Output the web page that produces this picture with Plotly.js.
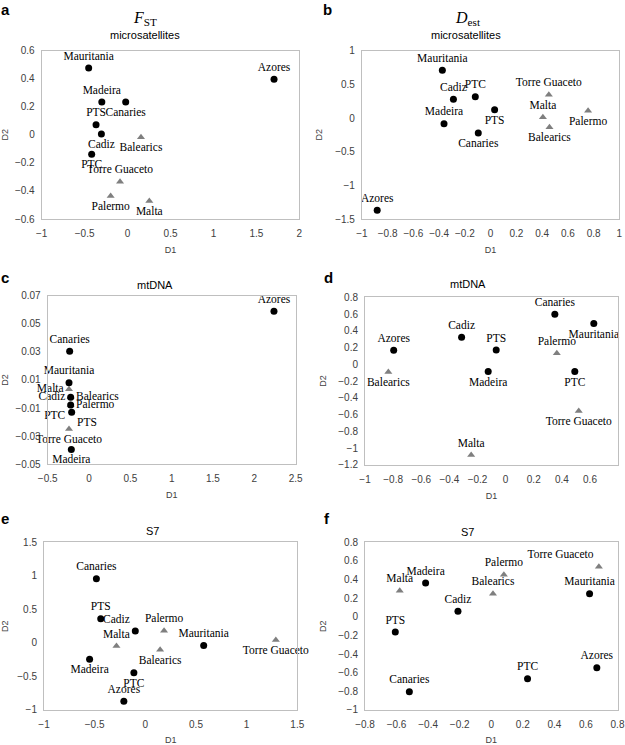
<!DOCTYPE html>
<html>
<head>
<meta charset="utf-8">
<script src="https://cdn.plot.ly/plotly-3.0.1.min.js"></script>
<style>
  body { margin: 0; }
  #graph { width: 625px; height: 745px; }
</style>
</head>
<body>
<div id="graph"></div>
<script>
// populations, same order in every panel
const pops = ['Azores', 'Madeira', 'Canaries', 'Mauritania', 'Cadiz', 'PTS', 'PTC',
              'Balearics', 'Torre Guaceto', 'Palermo', 'Malta']
const medit = ['Balearics', 'Torre Guaceto', 'Palermo', 'Malta']

// a - FST microsatellites
const fstD1 = [1.705, -0.30, -0.022, -0.453, -0.305, -0.367, -0.418, 0.156, -0.088, -0.197, 0.253]
const fstD2 = [0.396, 0.234, 0.234, 0.476, 0.006, 0.072, -0.139, -0.018, -0.334, -0.436, -0.472]
// b - Dest microsatellites
const destD1 = [-0.881, -0.362, -0.096, -0.375, -0.289, 0.031, -0.119, 0.457, 0.452, 0.757, 0.406]
const destD2 = [-1.371, -0.084, -0.223, 0.708, 0.277, 0.124, 0.317, -0.139, 0.347, 0.109, 0.01]
// c - mtDNA
const mtcD1 = [2.238, -0.214, -0.234, -0.242, -0.222, -0.21, -0.222, -0.222, -0.242, -0.222, -0.242]
const mtcD2 = [0.059, -0.0395, 0.0305, 0.008, -0.0024, -0.0131, -0.0079, -0.0024, -0.025, -0.0079, 0.0033]
// d - mtDNA
const mtdD1 = [-0.796, -0.124, 0.35, 0.627, -0.313, -0.067, 0.492, -0.834, 0.52, 0.364, -0.245]
const mtdD2 = [0.168, -0.087, 0.597, 0.486, 0.323, 0.172, -0.087, -0.091, -0.556, 0.132, -1.081]
// e - S7
const s7eD1 = [-0.212, -0.55, -0.483, 0.576, -0.099, -0.44, -0.113, 0.146, 1.288, 0.185, -0.285]
const s7eD2 = [-0.871, -0.245, 0.958, -0.04, 0.178, 0.362, -0.443, -0.1, 0.044, 0.183, -0.046]
// f - S7
const s7fD1 = [0.669, -0.416, -0.519, 0.623, -0.211, -0.608, 0.230, 0.011, 0.682, 0.080, -0.580]
const s7fD2 = [-0.546, 0.363, -0.803, 0.249, 0.059, -0.163, -0.664, 0.249, 0.539, 0.453, 0.281]

// label placement (same order as pops)
const T = 'top center', B = 'bottom center'
const posA = [T, T, B, T, B, T, B, B, T, B, B]
const posB = [T, T, B, T, T, B, T, B, T, B, T]
const posC = [T, B, T, T, 'middle left', 'bottom right', 'bottom left', 'middle right', B, 'middle right', 'middle left']
const posD = [T, B, T, B, T, T, B, B, B, T, T]
const posE = [T, B, T, T, 'top left', T, B, B, B, T, T]
const posF = [T, T, T, T, T, T, T, T, 'top left', T, T]

const serif = '"Liberation Serif", "Times New Roman", serif'
const sans = '"Liberation Sans", Arial, sans-serif'
const labelFont = { family: serif, size: 11.5, color: '#000' }

function panel(n, d1, d2, pos) {
    const xa = n === 1 ? 'x' : 'x' + n
    const ya = n === 1 ? 'y' : 'y' + n
    const tri = { x: [], y: [], text: [], pos: [] }
    const dot = { x: [], y: [], text: [], pos: [] }
    pops.forEach((p, i) => {
        const g = medit.includes(p) ? tri : dot
        g.x.push(d1[i]); g.y.push(d2[i]); g.text.push(p); g.pos.push(pos[i])
    })
    return [
        {
            x: tri.x, y: tri.y, text: tri.text, textposition: tri.pos,
            mode: 'markers+text', type: 'scatter', xaxis: xa, yaxis: ya,
            marker: { symbol: 'triangle-up', size: 7, color: '#7f7f7f' },
            textfont: labelFont, cliponaxis: false, hoverinfo: 'text'
        },
        {
            x: dot.x, y: dot.y, text: dot.text, textposition: dot.pos,
            mode: 'markers+text', type: 'scatter', xaxis: xa, yaxis: ya,
            marker: { symbol: 'circle', size: 7, color: '#000' },
            textfont: labelFont, cliponaxis: false, hoverinfo: 'text'
        }
    ]
}

const graphData = [].concat(
    panel(1, fstD1, fstD2, posA),
    panel(2, destD1, destD2, posB),
    panel(3, mtcD1, mtcD2, posC),
    panel(4, mtdD1, mtdD2, posD),
    panel(5, s7eD1, s7eD2, posE),
    panel(6, s7fD1, s7fD2, posF)
)

const tickFont = { family: sans, size: 10, color: '#404040' }
const axTitleFont = { family: sans, size: 9, color: '#404040' }

function xax(domain, range, dtick, anchor) {
    return {
        domain: domain, range: range, dtick: dtick, tick0: range[0], anchor: anchor,
        showgrid: false, zeroline: false, showline: true, mirror: true,
        linecolor: '#bfbfbf', linewidth: 1,
        ticks: 'outside', ticklen: 5, tickcolor: 'rgba(0,0,0,0)',
        tickfont: tickFont,
        title: { text: 'D1', font: axTitleFont, standoff: 8 }
    }
}
function yax(domain, range, dtick, anchor) {
    return {
        domain: domain, range: range, dtick: dtick, tick0: range[0], anchor: anchor,
        showgrid: false, zeroline: false, showline: true, mirror: true,
        linecolor: '#bfbfbf', linewidth: 1,
        ticks: 'outside', ticklen: 4, tickcolor: 'rgba(0,0,0,0)',
        tickfont: tickFont,
        title: { text: 'D2', font: axTitleFont, standoff: 10 }
    }
}

function note(text, x, y, size, family, bold) {
    return {
        text: bold ? '<b>' + text + '</b>' : text,
        x: x / 625, y: 1 - y / 745, xref: 'paper', yref: 'paper',
        xanchor: 'center', yanchor: 'middle', showarrow: false,
        font: { family: family, size: size, color: '#000' }
    }
}

const layout = {
    width: 625,
    height: 745,
    margin: { l: 0, r: 0, t: 0, b: 0 },
    paper_bgcolor: '#fff',
    plot_bgcolor: '#fff',
    showlegend: false,
    xaxis:  xax([0.0667, 0.479], [-1, 2], 0.5, 'y'),
    yaxis:  yax([0.706, 0.932], [-0.6, 0.6], 0.2, 'x'),
    xaxis2: xax([0.579, 0.991], [-1, 1], 0.2, 'y2'),
    yaxis2: yax([0.706, 0.932], [-1.5, 1], 0.5, 'x2'),
    xaxis3: xax([0.0763, 0.473], [-0.5, 2.5], 0.5, 'y3'),
    yaxis3: yax([0.377, 0.603], [-0.05, 0.07], 0.02, 'x3'),
    xaxis4: xax([0.584, 0.989], [-1, 0.8], 0.2, 'y4'),
    yaxis4: yax([0.376, 0.601], [-1.2, 0.8], 0.2, 'x4'),
    xaxis5: xax([0.0704, 0.4757], [-1, 1.5], 0.5, 'y5'),
    yaxis5: yax([0.047, 0.272], [-1, 1.5], 0.5, 'x5'),
    xaxis6: xax([0.584, 0.988], [-0.8, 0.8], 0.2, 'y6'),
    yaxis6: yax([0.047, 0.272], [-1, 0.8], 0.2, 'x6'),
    annotations: [
        note('a', 5, 9, 15, sans, true),
        note('b', 327, 9, 15, sans, true),
        note('c', 5, 278, 15, sans, true),
        note('d', 328, 278, 15, sans, true),
        note('e', 5, 518, 15, sans, true),
        note('f', 327, 518, 15, sans, true),
        note('<i>F</i><sub>ST</sub>', 145, 18, 16, serif),
        note('microsatellites', 145, 35, 11, sans),
        note('<i>D</i><sub>est</sub>', 468, 18, 16, serif),
        note('microsatellites', 466, 35, 11, sans),
        note('mtDNA', 155, 285, 11, sans),
        note('mtDNA', 468, 284, 11, sans),
        note('S7', 152, 531, 11, sans),
        note('S7', 467, 532, 11, sans)
    ]
}

Plotly.newPlot('graph', graphData, layout, { displayModeBar: false })
</script>
</body>
</html>
